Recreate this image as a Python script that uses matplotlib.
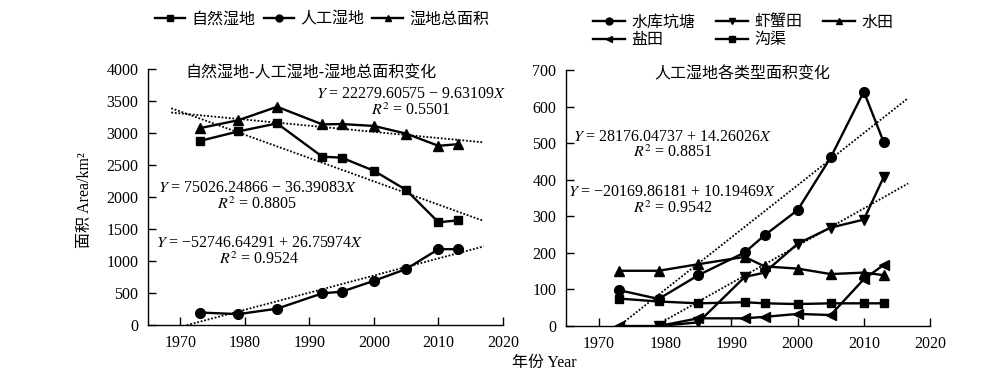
import matplotlib
matplotlib.use('Agg')
import matplotlib.pyplot as plt
import numpy as np

plt.rcParams['font.family'] = ['Liberation Serif', 'Noto Sans CJK SC']
plt.rcParams['mathtext.fontset'] = 'stix'
plt.rcParams['axes.unicode_minus'] = True

CJK = ['Noto Sans CJK SC', 'DejaVu Sans']
MIX = ['Liberation Serif', 'Noto Sans CJK SC']

# ---------------- data ----------------
years = [1973, 1979, 1985, 1992, 1995, 2000, 2005, 2010, 2013]

# left panel
natural = [2875, 3025, 3150, 2630, 2615, 2410, 2110, 1605, 1635]
artificial = [195, 170, 255, 495, 520, 690, 875, 1185, 1185]
total = [3075, 3200, 3410, 3135, 3140, 3110, 2990, 2800, 2825]
left_labels = ['自然湿地', '人工湿地', '湿地总面积']

# right panel
reservoir = [98, 74, 139, 201, 248, 317, 461, 641, 503]
crab_years = [1979, 1985, 1992, 1995, 2000, 2005, 2010, 2013]
crab = [0, 10, 134, 146, 225, 269, 291, 407]
paddy = [151, 151, 169, 189, 163, 157, 142, 146, 139]
salt = [0, 0, 21, 21, 25, 33, 30, 128, 167]
ditch = [75, 67, 62, 65, 62, 60, 62, 62, 62]
right_labels = ['水库坑塘', '虾蟹田', '水田', '盐田', '沟渠']

# trend lines: slope, intercept, x-range
left_trend_slope = [-9.63109, -36.39083, 26.75974]
left_trend_icpt = [22279.60575, 75026.24866, -52746.64291]
left_trend_x0 = [1968.6, 1968.6, 1971.0]
left_trend_x1 = [2017.0, 2017.0, 2017.0]
left_eq = [r'$Y$ = 22279.60575 − 9.63109$X$' + '\n' + r'$R^2$ = 0.5501',
           r'$Y$ = 75026.24866 − 36.39083$X$' + '\n' + r'$R^2$ = 0.8805',
           r'$Y$ = −52746.64291 + 26.75974$X$' + '\n' + r'$R^2$ = 0.9524']

right_trend_slope = [14.26026, 10.19469]
right_trend_icpt = [-28135.5, -20169.86181]
right_trend_x0 = [1973.0, 1978.5]
right_trend_x1 = [2016.7, 2016.7]
right_eq = [r'$Y$ = 28176.04737 + 14.26026$X$' + '\n' + r'$R^2$ = 0.8851',
            r'$Y$ = −20169.86181 + 10.19469$X$' + '\n' + r'$R^2$ = 0.9542']

xticks = [1970, 1980, 1990, 2000, 2010, 2020]
left_yticks = [0, 500, 1000, 1500, 2000, 2500, 3000, 3500, 4000]
right_yticks = [0, 100, 200, 300, 400, 500, 600, 700]

# ---------------- figure ----------------
W, H = 1004, 384
fig = plt.figure(figsize=(W / 100, H / 100), dpi=100)

def px_axes(l, r, t, b):
    return [l / W, 1 - b / H, (r - l) / W, (b - t) / H]

axL = fig.add_axes(px_axes(148, 503, 69, 325))
axR = fig.add_axes(px_axes(566, 930, 70, 326))

LW = 1.7
kw = dict(color='black', lw=LW, clip_on=True)

def style(ax, yt, ylim):
    ax.set_xlim(1965, 2020)
    ax.set_ylim(*ylim)
    ax.set_xticks(xticks)
    ax.set_yticks(yt)
    ax.spines['top'].set_visible(False)
    ax.spines['right'].set_visible(False)
    for s in ['left', 'bottom']:
        ax.spines[s].set_linewidth(1.0)
    ax.tick_params(direction='in', length=5.5, width=1.0, labelsize=11.5, pad=7)

# left panel
hN, = axL.plot(years, natural, marker='s', ms=6, **kw)
hA, = axL.plot(years, artificial, marker='o', ms=7, **kw)
hT, = axL.plot(years, total, marker='^', ms=7, **kw)
for m, b, x0, x1 in zip(left_trend_slope, left_trend_icpt, left_trend_x0, left_trend_x1):
    xs = np.array([x0, x1])
    axL.plot(xs, m * xs + b, color='black', lw=1.3, ls=(0, (1, 1)))
style(axL, left_yticks, (0, 4000))

eq_kw = dict(fontsize=11.5, ha='center', va='center', multialignment='center',
             linespacing=1.0)
axL.text(0.742, 0.868, left_eq[0], transform=axL.transAxes, **eq_kw)
axL.text(0.308, 0.503, left_eq[1], transform=axL.transAxes, **eq_kw)
axL.text(0.315, 0.287, left_eq[2], transform=axL.transAxes, **eq_kw)
axL.text(0.46, 0.985, '自然湿地-人工湿地-湿地总面积变化', transform=axL.transAxes,
         ha='center', va='center', fontsize=11.5, family=CJK)

# right panel
hR, = axR.plot(years, reservoir, marker='o', ms=7, **kw)
hC, = axR.plot(crab_years, crab, marker='v', ms=7, **kw)
hP, = axR.plot(years, paddy, marker='^', ms=7, **kw)
hS, = axR.plot(years, salt, marker='<', ms=7, **kw)
hD, = axR.plot(years, ditch, marker='s', ms=6, **kw)
for m, b, x0, x1 in zip(right_trend_slope, right_trend_icpt, right_trend_x0, right_trend_x1):
    xs = np.array([x0, x1])
    axR.plot(xs, m * xs + b, color='black', lw=1.3, ls=(0, (1, 1)))
style(axR, right_yticks, (0, 700))
axR.text(0.293, 0.707, right_eq[0], transform=axR.transAxes, **eq_kw)
axR.text(0.293, 0.49, right_eq[1], transform=axR.transAxes, **eq_kw)
axR.text(0.484, 0.985, '人工湿地各类型面积变化', transform=axR.transAxes,
         ha='center', va='center', fontsize=11.5, family=CJK)

# legends
legL = fig.legend([hN, hA, hT], left_labels, loc='center', ncol=3,
                  bbox_to_anchor=(322 / W, 1 - 19 / H), frameon=False,
                  handlelength=1.9, handletextpad=0.4, columnspacing=0.5,
                  prop={'family': CJK, 'size': 11.5})
legR = fig.legend([hR, hS, hC, hD, hP],
                  [right_labels[0], right_labels[3], right_labels[1], right_labels[4], right_labels[2]],
                  loc='center', ncol=3, bbox_to_anchor=(743 / W, 1 - 31 / H),
                  frameon=False, handlelength=2.0, handletextpad=0.4,
                  columnspacing=1.3, labelspacing=0.05,
                  prop={'family': CJK, 'size': 11.5})
for lg in (legL, legR):
    for ln in lg.get_lines():
        ln.set_markersize(5)

# axis labels
fig.text(85 / W, 1 - 200 / H, '面积 Area/km²', rotation=90, ha='center', va='center',
         fontsize=11.5, family=MIX)
fig.text(544 / W, 1 - 363 / H, '年份 Year', ha='center', va='center',
         fontsize=11.5, family=MIX)

fig.savefig('out.png', dpi=100)
